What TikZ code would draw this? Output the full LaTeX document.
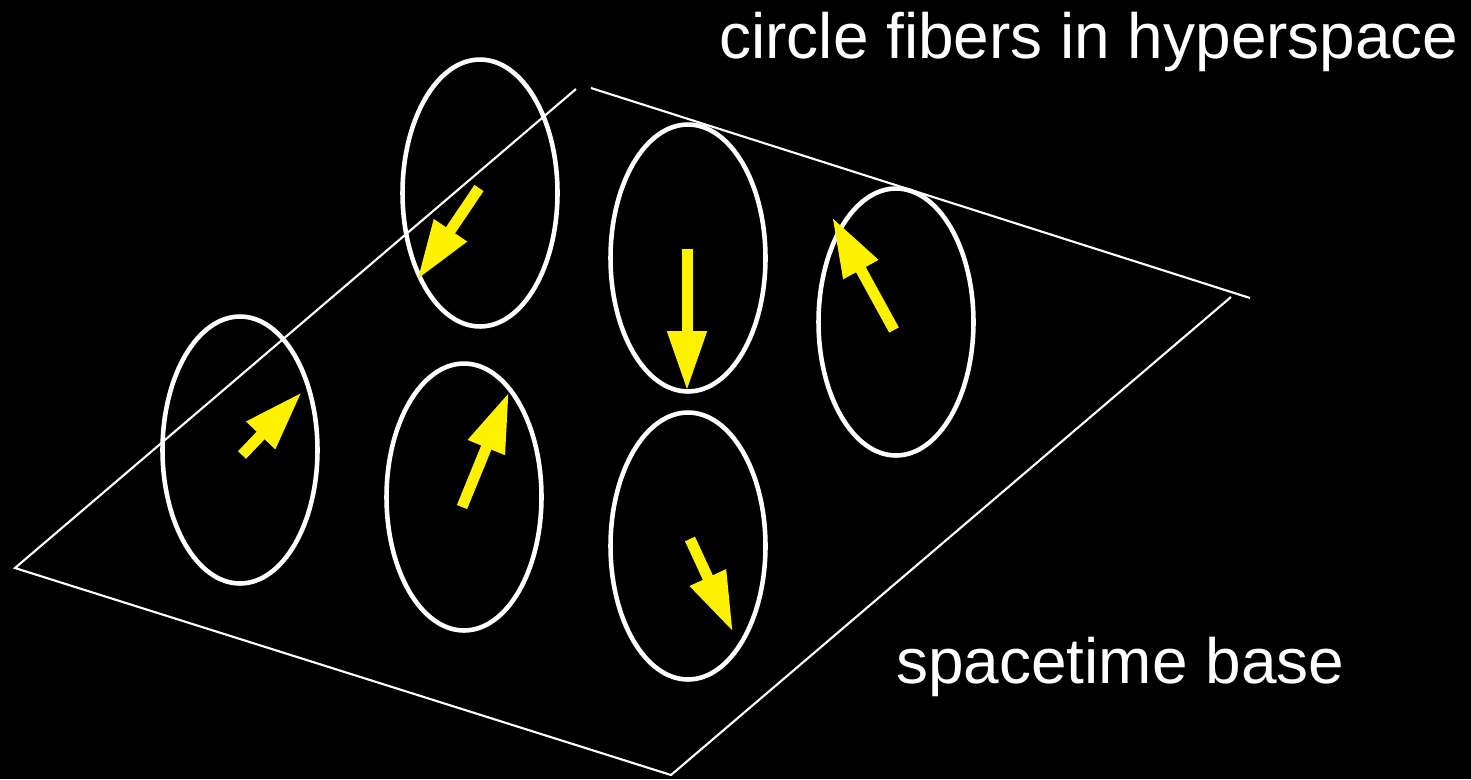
\documentclass[tikz,border=0pt]{standalone}
\usepackage{fontspec}
\setmainfont{Liberation Sans}
\usetikzlibrary{arrows.meta,shapes.geometric}

\begin{document}
\begin{tikzpicture}[
x=0.02cm,y=-0.02cm,
fiber/.style={
draw=white,
line width=2.6pt,
ellipse,
inner sep=0pt,
minimum width=3.1cm,
minimum height=5.34cm
},
spin/.style={
draw=yellow,
line width=0.22cm,
-{Triangle[width=0.74cm,length=1.2cm]},
yellow
},
base/.style={
draw=white,
line width=1.2pt
},
label/.style={
text=white,
font=\fontsize{36.4}{40}\selectfont,
inner sep=0pt,
anchor=base west
}
]

% background
\fill[black] (0,0) rectangle (1471,779);
\useasboundingbox (0,0) rectangle (1471,779);


% spacetime base
\coordinate (left) at (15,568);
\coordinate (bottom) at (671,775);
\draw[base] (576,89)--(left)--(bottom)--(1231,297);
\draw[base] (591,88)--(1250,298);


% fibers
\node[fiber] (f1) at (240,450) {};
\node[fiber] (f2) at (480,193) {};
\node[fiber] (f3) at (464,497) {};
\node[fiber] (f4) at (688,258) {};
\node[fiber] (f5) at (688,546) {};
\node[fiber] (f6) at (896,322) {};


% spins
\coordinate (s1a) at (242,455);
\coordinate (s1b) at (302,392);
\coordinate (s2a) at (479,188);
\coordinate (s2b) at (417,280);
\coordinate (s3a) at (462,507);
\coordinate (s3b) at (509,392);
\coordinate (s4a) at (687,249);
\coordinate (s4b) at (687,391);
\coordinate (s5a) at (690,539);
\coordinate (s5b) at (733,632);
\coordinate (s6a) at (894,330);
\coordinate (s6b) at (832,217);

\draw[spin] (s1a)--(s1b);
\draw[spin] (s2a)--(s2b);
\draw[spin] (s3a)--(s3b);
\draw[spin] (s4a)--(s4b);
\draw[spin] (s5a)--(s5b);
\draw[spin] (s6a)--(s6b);


% labels
\node[label] (top) at (719,58) {circle fibers in hyperspace};
\node[label] (bot) at (896,683) {spacetime base};


\end{tikzpicture}
\end{document}
